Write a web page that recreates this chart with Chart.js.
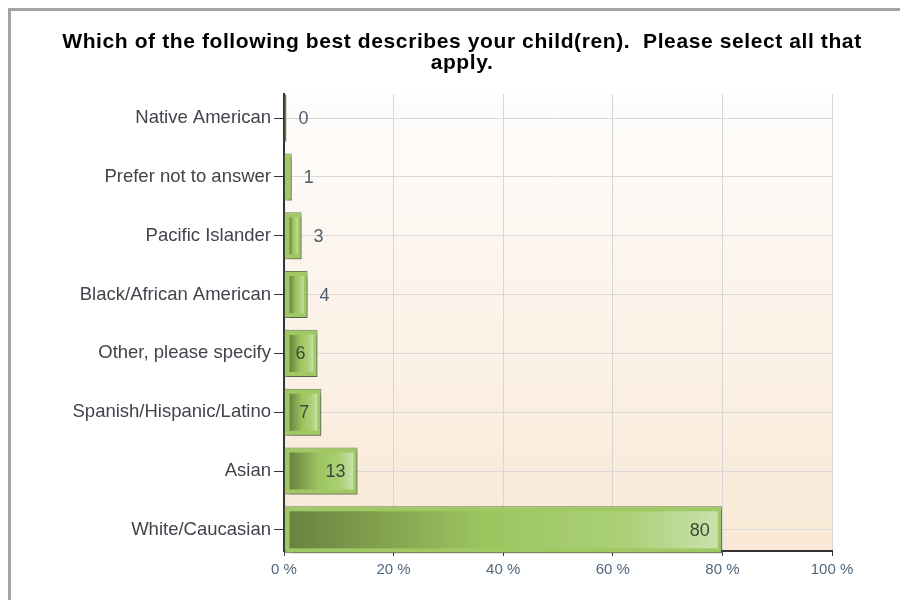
<!DOCTYPE html>
<html><head><meta charset="utf-8">
<script src="https://cdn.jsdelivr.net/npm/chart.js@4.4.1/dist/chart.umd.min.js"></script>
<style>
html,body{margin:0;padding:0;background:#fff;overflow:hidden;}
#wrap{position:relative;width:900px;height:600px;}
#frame{position:absolute;left:8px;top:8px;width:1000px;height:1000px;border-top:3px solid #a4a4a4;border-left:3px solid #a4a4a4;pointer-events:none;}
#title{position:absolute;left:0;top:30px;width:924px;text-align:center;white-space:pre;font:bold 21px Arial,'Liberation Sans',sans-serif;letter-spacing:0.6px;line-height:21px;color:#000;}
canvas{position:absolute;left:0;top:0;}
</style></head><body>
<div id="wrap"><canvas id="c" width="900" height="600"></canvas><div id="title"></div><div id="frame"></div></div>
<script>
const titleLines = ['Which of the following best describes your child(ren).  Please select all that', 'apply.'];
const categories = ['Native American', 'Prefer not to answer', 'Pacific Islander', 'Black/African American', 'Other, please specify', 'Spanish/Hispanic/Latino', 'Asian', 'White/Caucasian'];
const percents = [0.45, 1.4, 3.2, 4.3, 6.1, 6.8, 13.4, 79.9];
const xTicks = [0, 20, 40, 60, 80, 100];

const FONT = "Arial, 'Liberation Sans', sans-serif";
document.getElementById('title').textContent = titleLines.join('\n');

const bgPlugin = {
  id: 'bg',
  beforeDraw(chart) {
    const {ctx, chartArea: a} = chart;
    const g = ctx.createLinearGradient(0, a.top, 0, a.bottom);
    g.addColorStop(0, '#fefdfc');
    g.addColorStop(1, '#f9e8d5');
    ctx.save();
    ctx.fillStyle = g;
    ctx.fillRect(a.left, a.top, a.right - a.left, a.bottom - a.top);
    ctx.restore();
  }
};

const barDeco = {
  id: 'barDeco',
  beforeDatasetsDraw(chart) {
    const ctx = chart.ctx;
    ctx.save();
    ctx.shadowColor = 'rgba(50,50,50,0.45)';
    ctx.shadowBlur = 3;
    ctx.shadowOffsetX = 3;
    ctx.shadowOffsetY = 3;
  },
  afterDatasetsDraw(chart) {
    const ctx = chart.ctx;
    ctx.restore();
    const meta = chart.getDatasetMeta(0);
    meta.data.forEach((el, i) => {
      const p = el.getProps(['x', 'y', 'base', 'height'], true);
      const left = Math.min(p.base, p.x), right = Math.max(p.base, p.x);
      const top = p.y - p.height / 2, bot = p.y + p.height / 2;
      const il = left + 5, ir = right - 4, it = top + 5, ib = bot - 5;
      if (ir - il > 1) {
        const g = ctx.createLinearGradient(il, 0, ir, 0);
        g.addColorStop(0, '#6a8240');
        g.addColorStop(0.45, '#9bc45f');
        g.addColorStop(0.8, '#acd179');
        g.addColorStop(1, '#c9e2ab');
        ctx.save();
        ctx.fillStyle = g;
        ctx.fillRect(il, it, ir - il, ib - it);
        ctx.restore();
      }
      const txt = String(Math.round(percents[i]));
      ctx.save();
      ctx.font = '18px ' + FONT;
      ctx.textBaseline = 'middle';
      if (right - left > 30) {
        ctx.textAlign = 'right';
        ctx.fillStyle = '#3c4a38';
        ctx.fillText(txt, right - 12, p.y + 1);
      } else {
        ctx.textAlign = 'left';
        ctx.fillStyle = '#4e5d6c';
        ctx.fillText(txt, right + 12, p.y + 1);
      }
      ctx.restore();
    });
  }
};

new Chart(document.getElementById('c'), {
  type: 'bar',
  data: {
    labels: categories,
    datasets: [{
      data: percents,
      backgroundColor: '#a0c964',
      borderColor: '#6b7f52',
      borderWidth: 1,
      borderSkipped: false,
      barPercentage: 0.8,
      categoryPercentage: 1,
      clip: false
    }]
  },
  options: {
    indexAxis: 'y',
    responsive: false,
    animation: false,
    devicePixelRatio: 1,
    layout: {padding: {left: 0, right: 68, top: 94, bottom: 0}},
    plugins: {
      legend: {display: false},
      tooltip: {enabled: false},
      title: {display: false}
    },
    scales: {
      x: {
        type: 'linear',
        min: 0, max: 100,
        afterBuildTicks: s => { s.ticks = xTicks.map(v => ({value: v})); },
        afterFit: s => { s.height = 49; },
        grid: {color: '#d6d6d6', lineWidth: 1, tickColor: '#3a3a3a', tickLength: 5, drawTicks: true},
        border: {color: '#333', width: 2},
        ticks: {
          color: '#52677e',
          font: {family: FONT, size: 15},
          padding: 5,
          callback: v => v + ' %'
        }
      },
      y: {
        type: 'category',
        afterBuildTicks: s => { s._startValue = -0.41; s._valueRange = 7.77; },
        afterFit: s => { s.width = 284; },
        grid: {offset: false, color: '#d9d9d9', lineWidth: 1, tickColor: '#333', tickLength: 10},
        border: {color: '#333', width: 2},
        ticks: {
          color: '#40454c',
          font: {family: FONT, size: 18.5},
          padding: 3,
          autoSkip: false
        }
      }
    }
  },
  plugins: [bgPlugin, barDeco]
});
</script>
</body></html>
